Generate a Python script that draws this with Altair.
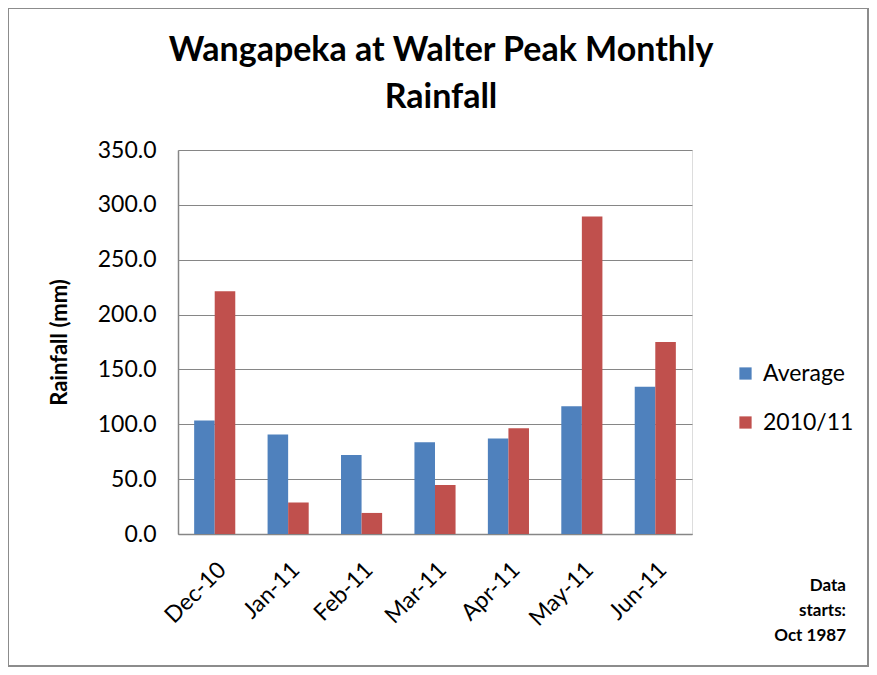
import altair as alt
import pandas as pd

months = ["Dec-10", "Jan-11", "Feb-11", "Mar-11", "Apr-11", "May-11", "Jun-11"]
average = [103.4, 90.6, 72.1, 83.6, 87.0, 116.4, 134.1]
season = [221.3, 28.6, 19.2, 44.7, 96.4, 289.4, 175.1]
series_names = ["Average", "2010/11"]
series_colors = ["#4F81BD", "#C0504D"]
y_ticks = [0, 50, 100, 150, 200, 250, 300, 350]
note_lines = ["Data", "starts:", "Oct 1987"]

rows = []
for m, a, s in zip(months, average, season):
    rows.append({"month": m, "series": series_names[0], "value": a})
    rows.append({"month": m, "series": series_names[1], "value": s})
df = pd.DataFrame(rows)

FONT = "Lato"
GRAY = "#868686"

bars = alt.Chart(df).mark_bar().encode(
    x=alt.X("month:N", sort=months, title=None,
            scale=alt.Scale(paddingInner=0.44, paddingOuter=0.22),
            axis=alt.Axis(labelAngle=-45, labelFontSize=23, labelFont=FONT,
                          labelColor="#000000", ticks=False, domainColor=GRAY,
                          domainWidth=1.5, labelPadding=24, grid=False)),
    xOffset=alt.XOffset("series:N", sort=series_names),
    y=alt.Y("value:Q", title="Rainfall (mm)",
            scale=alt.Scale(domain=[0, 350], nice=False),
            axis=alt.Axis(values=y_ticks, format=".1f", labelFontSize=23,
                          labelFont=FONT, labelColor="#000000", ticks=False,
                          domainColor=GRAY, domainWidth=1.5, gridColor=GRAY,
                          gridWidth=1.2, labelPadding=22, titleFont=FONT,
                          titleFontSize=22, titleFontWeight="bold",
                          titleColor="#000000", titlePadding=26)),
    color=alt.Color("series:N", sort=series_names,
                    scale=alt.Scale(domain=series_names, range=series_colors),
                    legend=alt.Legend(title=None, orient="none", legendX=556,
                                      legendY=212, symbolType="square",
                                      symbolSize=150, symbolStrokeWidth=0,
                                      labelFont=FONT, labelFontSize=23,
                                      labelColor="#000000", rowPadding=25,
                                      labelOffset=6)),
)

note_df = pd.DataFrame({"line": ["\n".join(note_lines)]})
note = alt.Chart(note_df).mark_text(
    align="right", baseline="middle", font=FONT, fontSize=17,
    fontWeight="bold", color="#000000", lineBreak="\n", lineHeight=25
).encode(
    x=alt.value(668),
    y=alt.value(436),
    text="line:N",
)

frame = alt.Chart(pd.DataFrame({"k": [0]})).mark_rect(
    fill=None, stroke="#8c8c8c", strokeWidth=2
).encode(
    x=alt.value(-170), x2=alt.value(690),
    y=alt.value(-142), y2=alt.value(516),
)

chart = alt.layer(frame, bars, note).properties(
    width=514, height=384,
    title=alt.TitleParams(
        text=["Wangapeka at Walter Peak Monthly", "Rainfall"],
        font=FONT, fontSize=34, fontWeight="bold", color="#000000",
        anchor="middle", dx=6, offset=22, dy=130, lineHeight=47,
    ),
    autosize=alt.AutoSizeParams(type="none"),
    padding={"left": 170, "top": 142, "right": 177, "bottom": 133},
).configure_view(stroke=None).configure(background="#ffffff")

chart.save("out.html", embed_options={"renderer": "svg", "actions": False})
